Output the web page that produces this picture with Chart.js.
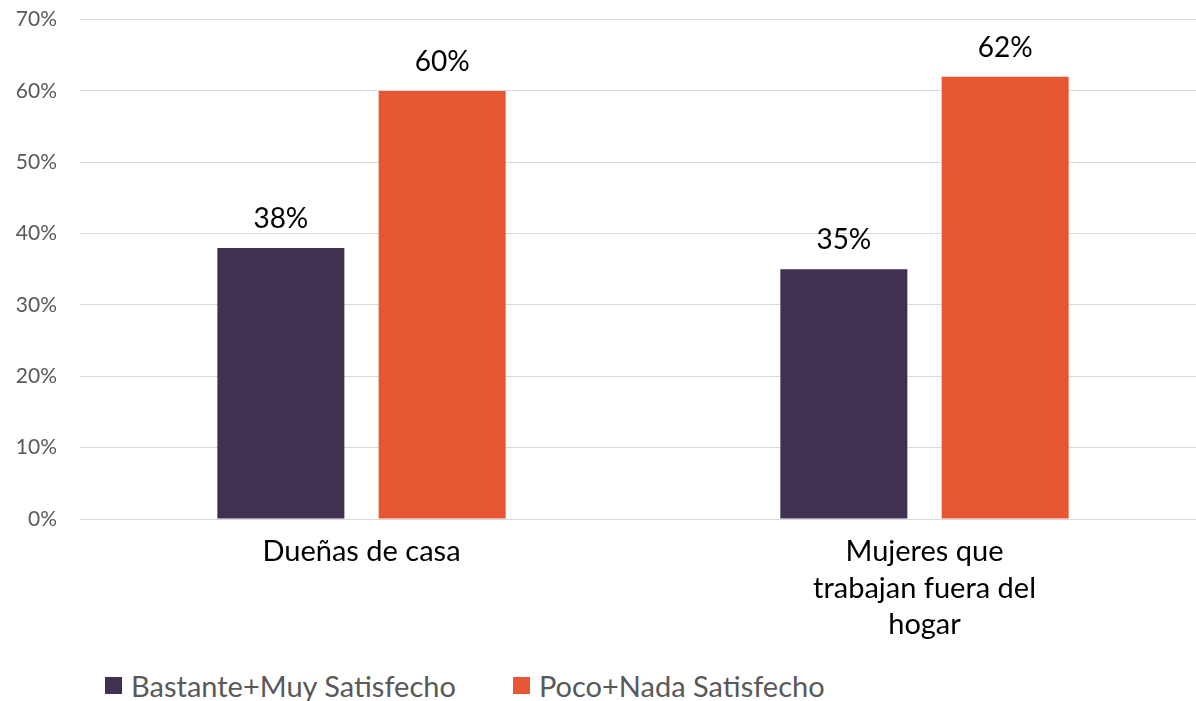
<!DOCTYPE html>
<html>
<head>
<meta charset="utf-8">
<script src="https://cdn.jsdelivr.net/npm/chart.js@4"></script>
<style>
  html, body { margin: 0; padding: 0; background: #fff; overflow: hidden; }
  #wrap { position: relative; width: 1206px; height: 676px; margin-top: -16px; }
  #legend { position: absolute; left: 105px; top: 668px; display: flex; font-family: Lato, "Open Sans", sans-serif; font-size: 29px; color: #595959; }
  #legend .item { display: flex; align-items: center; margin-right: 57px; }
  #legend .box { width: 17px; height: 17px; margin-right: 9px; }
</style>
</head>
<body>
<div id="wrap"><canvas id="chart" width="1206" height="676"></canvas></div>
<div id="legend"></div>
<script>
const categories = [['Dueñas de casa'], ['Mujeres que', 'trabajan fuera del', 'hogar']];
const seriesNames = ['Bastante+Muy Satisfecho', 'Poco+Nada Satisfecho'];
const satisfechos = [38, 35];
const noSatisfechos = [60, 62];
const colors = ['#403151', '#E85733'];
const yTicks = [0, 10, 20, 30, 40, 50, 60, 70];

const fontFamily = 'Lato, "Open Sans", sans-serif';

const valueLabels = {
  id: 'valueLabels',
  afterDatasetsDraw(chart) {
    const ctx = chart.ctx;
    ctx.save();
    ctx.font = '28px ' + fontFamily;
    ctx.fillStyle = '#000';
    ctx.textAlign = 'center';
    ctx.textBaseline = 'bottom';
    chart.data.datasets.forEach((ds, i) => {
      chart.getDatasetMeta(i).data.forEach((bar, j) => {
        ctx.fillText(ds.data[j] + '%', bar.x, bar.y - 15);
      });
    });
    ctx.restore();
  }
};

const chart = new Chart(document.getElementById('chart'), {
  type: 'bar',
  data: {
    labels: categories,
    datasets: [
      { label: seriesNames[0], data: satisfechos, backgroundColor: colors[0] },
      { label: seriesNames[1], data: noSatisfechos, backgroundColor: colors[1] }
    ]
  },
  options: {
    responsive: false,
    animation: false,
    devicePixelRatio: 1,
    categoryPercentage: 0.573,
    barPercentage: 0.7875,
    layout: { padding: { top: 2, right: 0, left: 0, bottom: 0 } },
    plugins: {
      legend: { display: false },
      tooltip: { enabled: false }
    },
    scales: {
      x: {
        grid: { display: false },
        border: { display: true, color: '#d9d9d9', width: 1 },
        ticks: {
          color: '#000',
          font: { family: fontFamily, size: 29, lineHeight: 1.25 },
          padding: 7,
          maxRotation: 0
        },
        afterFit(axis) { axis.height = 141; }
      },
      y: {
        min: 0,
        max: 70,
        afterBuildTicks(axis) { axis.ticks = yTicks.map(v => ({ value: v })); },
        grid: { color: '#d9d9d9', lineWidth: 1, drawTicks: false },
        border: { display: false },
        ticks: {
          color: '#595959',
          font: { family: fontFamily, size: 21 },
          padding: 23,
          callback: v => v + '%'
        },
        afterFit(axis) { axis.width = 80; }
      }
    }
  },
  plugins: [valueLabels]
});

// leyenda en HTML a partir de los datasets
document.getElementById('legend').innerHTML = chart.data.datasets.map(ds => `
  <div class="item"><div class="box" style="background:${ds.backgroundColor}"></div>${ds.label}</div>
`).join('');
</script>
</body>
</html>
